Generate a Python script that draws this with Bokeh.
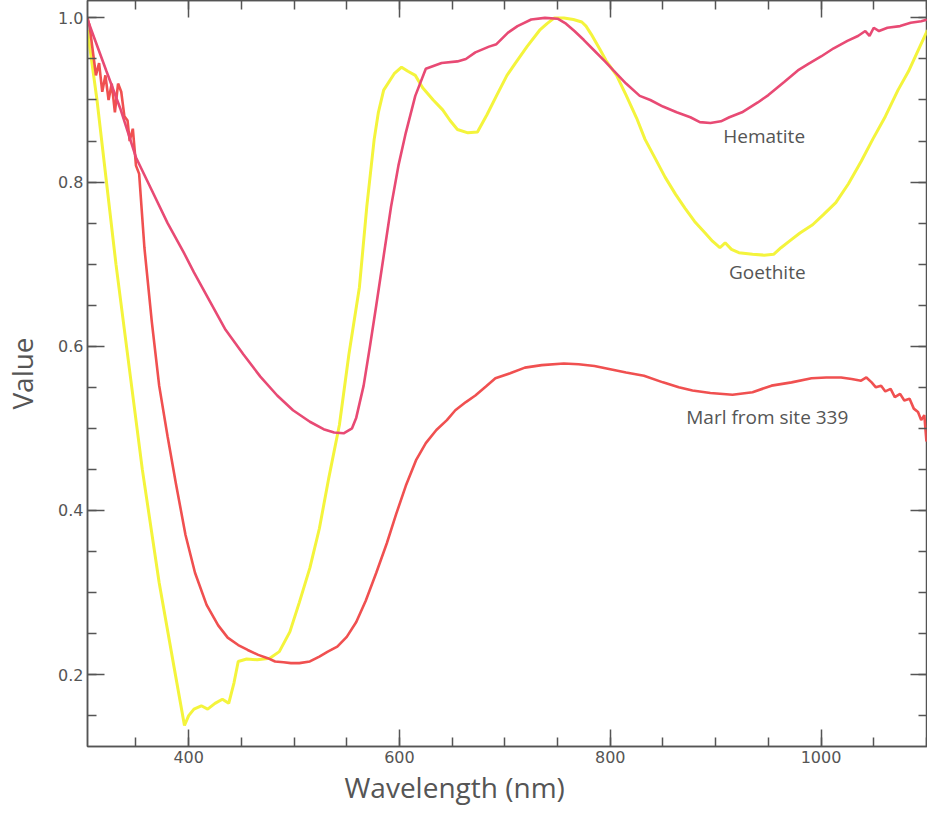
from bokeh.plotting import figure
from bokeh.models import Range1d, LinearAxis, FixedTicker, Label, NumeralTickFormatter, Title
from bokeh.embed import file_html
from bokeh.resources import INLINE

# ---- data ----
hem_x = [304, 312, 322, 335, 350, 365, 380, 395, 405, 420, 435, 452, 468, 484, 499, 515, 528,
         538, 547, 555, 559, 566, 572, 578, 585, 592, 599, 606, 615, 625, 640, 655, 663, 672,
         685, 692, 703, 712, 725, 738, 750, 758, 766, 775, 785, 795, 803, 815, 828, 838, 850,
         863, 876, 885, 895, 905, 913, 925, 940, 950, 965, 978, 988, 1000, 1012, 1025, 1035,
         1042, 1046, 1050, 1055, 1063, 1075, 1085, 1095, 1101]
hem_y = [0.998, 0.97, 0.935, 0.89, 0.83, 0.79, 0.75, 0.715, 0.69, 0.655, 0.62, 0.59, 0.563,
         0.54, 0.522, 0.508, 0.499, 0.495, 0.494, 0.5, 0.513, 0.552, 0.6, 0.65, 0.71, 0.77, 0.82,
         0.86, 0.905, 0.938, 0.945, 0.947, 0.95, 0.958, 0.965, 0.968, 0.982, 0.99, 0.998, 1.0,
         0.999, 0.993, 0.984, 0.973, 0.96, 0.947, 0.936, 0.92, 0.905, 0.9, 0.892, 0.885, 0.879,
         0.873, 0.872, 0.874, 0.879, 0.885, 0.897, 0.906, 0.922, 0.936, 0.944, 0.953, 0.963,
         0.972, 0.978, 0.984, 0.978, 0.988, 0.984, 0.988, 0.99, 0.994, 0.996, 0.998]

goe_x = [304, 313, 331, 345, 356, 372, 386, 396, 400, 405, 412, 418, 425, 432, 438, 443, 447,
         455, 465, 477, 486, 496, 505, 515, 524, 533, 543, 552, 562, 569, 576, 580, 585, 595,
         602, 608, 615, 622, 632, 641, 648, 655, 665, 674, 683, 692, 702, 710, 721, 733, 740,
         747, 756, 765, 773, 777, 782, 790, 796, 806, 815, 825, 833, 843, 852, 862, 871, 880,
         890, 897, 904, 909, 915, 922, 935, 946, 955, 962, 970, 980, 992, 1002, 1014, 1026,
         1038, 1049, 1061, 1073, 1083, 1092, 1101]
goe_y = [0.985, 0.9, 0.7, 0.56, 0.45, 0.312, 0.21, 0.138, 0.15, 0.158, 0.162, 0.158, 0.165,
         0.17, 0.165, 0.19, 0.216, 0.219, 0.218, 0.22, 0.228, 0.252, 0.288, 0.33, 0.378, 0.44,
         0.504, 0.59, 0.672, 0.77, 0.852, 0.885, 0.912, 0.932, 0.94, 0.935, 0.93, 0.915, 0.9,
         0.888, 0.875, 0.864, 0.86, 0.861, 0.882, 0.905, 0.93, 0.945, 0.965, 0.985, 0.993,
         1.0, 1.0, 0.998, 0.995, 0.99, 0.98, 0.962, 0.948, 0.93, 0.906, 0.878, 0.852, 0.828,
         0.806, 0.785, 0.768, 0.752, 0.738, 0.728, 0.72, 0.726, 0.718, 0.714, 0.712, 0.711,
         0.712, 0.72, 0.728, 0.738, 0.748, 0.76, 0.775, 0.798, 0.825, 0.852, 0.88, 0.912,
         0.935, 0.96, 0.985]

marl_x = [304, 306, 309, 312, 315, 318, 321, 324, 327, 330, 333, 336, 339, 342, 344, 347, 350,
          353, 358, 365, 372, 380, 388, 397, 406, 417, 428, 437, 447, 456, 466, 475, 482, 490,
          497, 505, 515, 524, 532, 541, 550, 559, 568, 578, 588, 597, 606, 616, 625, 635, 645,
          653, 663, 672, 682, 691, 705, 719, 735, 756, 770, 785, 800, 815, 832, 850, 865, 878,
          895, 916, 935, 953, 972, 991, 1005, 1019, 1029, 1038, 1043, 1048, 1052, 1057, 1061,
          1066, 1070, 1075, 1079, 1084, 1088, 1092, 1095, 1098, 1100, 1101]
marl_y = [1.0, 0.99, 0.96, 0.93, 0.945, 0.91, 0.93, 0.9, 0.92, 0.885, 0.92, 0.91, 0.88, 0.875,
          0.85, 0.865, 0.82, 0.81, 0.72, 0.63, 0.552, 0.49, 0.432, 0.37, 0.324, 0.285, 0.26,
          0.245, 0.236, 0.23, 0.224, 0.22, 0.216, 0.215, 0.214, 0.214, 0.216, 0.222, 0.228,
          0.234, 0.246, 0.264, 0.29, 0.324, 0.36, 0.396, 0.43, 0.462, 0.482, 0.498, 0.51, 0.522,
          0.532, 0.54, 0.551, 0.561, 0.567, 0.574, 0.577, 0.579, 0.578, 0.576, 0.572, 0.568,
          0.564, 0.556, 0.55, 0.546, 0.543, 0.541, 0.544, 0.552, 0.556, 0.561, 0.562, 0.562,
          0.56, 0.558, 0.562, 0.556, 0.55, 0.552, 0.545, 0.548, 0.538, 0.542, 0.534, 0.536,
          0.524, 0.52, 0.51, 0.516, 0.484, 0.49]

x_ticks = [400, 600, 800, 1000]
y_ticks = [0.2, 0.4, 0.6, 0.8, 1.0]
x_minor = [350, 400, 450, 500, 550, 600, 650, 700, 750, 800, 850, 900, 950, 1000, 1050, 1100]
y_minor = [0.15, 0.2, 0.25, 0.3, 0.35, 0.4, 0.45, 0.5, 0.55, 0.6, 0.65, 0.7, 0.75, 0.8,
           0.85, 0.9, 0.95, 1.0]

x_title = "Wavelength (nm)"
y_title = "Value"
curve_labels = ["Hematite", "Goethite", "Marl from site 339"]
label_x = [946, 949, 949]
label_y = [0.856, 0.691, 0.514]

X0, X1 = 304, 1101
Y0, Y1 = 0.1124, 1.0212

AX = "#555555"
HEM = "#e84a74"
GOE = "#f4f43c"
MARL = "#f05050"

p = figure(width=927, height=805, output_backend="svg", toolbar_location=None,
           x_range=Range1d(X0, X1), y_range=Range1d(Y0, Y1),
           min_border_left=80, min_border_right=0, min_border_top=0, min_border_bottom=0,
           y_axis_label=y_title)
p.grid.visible = False
p.outline_line_color = AX
p.outline_line_width = 1.5
p.background_fill_color = "white"
p.border_fill_color = "white"

def style(ax, labels=True):
    ax.axis_line_color = AX
    ax.axis_line_width = 1.5
    ax.major_tick_line_color = AX
    ax.minor_tick_line_color = AX
    ax.major_tick_line_width = 1.5
    ax.minor_tick_line_width = 1.5
    ax.major_tick_in = 17
    ax.major_tick_out = 0
    ax.minor_tick_in = 9
    ax.minor_tick_out = 0
    if labels:
        ax.major_label_text_font = "DejaVu Sans"
        ax.major_label_text_font_size = "16px"
        ax.major_label_text_color = AX
        ax.major_label_standoff = 4
        ax.axis_label_text_font = "Open Sans"
        ax.axis_label_text_font_style = "normal"
        ax.axis_label_text_font_size = "28px"
        ax.axis_label_text_color = AX
    else:
        ax.major_label_text_font_size = "1px"
        ax.major_label_standoff = 0
        ax.axis_label_standoff = 0

p.xaxis.ticker = FixedTicker(ticks=x_ticks, minor_ticks=x_minor)
p.yaxis.ticker = FixedTicker(ticks=y_ticks, minor_ticks=y_minor)
p.yaxis.formatter = NumeralTickFormatter(format="0.0")
style(p.xaxis[0])
style(p.yaxis[0])
p.yaxis.axis_label_standoff = 14

top = LinearAxis(ticker=FixedTicker(ticks=x_ticks, minor_ticks=x_minor),
                 major_label_overrides={t: "" for t in x_ticks}, fixed_location=Y1)
style(top, labels=False)
p.add_layout(top, "above")
right = LinearAxis(ticker=FixedTicker(ticks=y_ticks, minor_ticks=y_minor),
                   major_label_overrides={t: "" for t in y_ticks}, fixed_location=X1)
style(right, labels=False)
p.add_layout(right, "right")

# x-axis title as a below-panel title, shifted left like the reference
xt = Title(text=x_title, align="left", offset=257, standoff=0,
           text_font="Open Sans", text_font_size="28px", text_font_style="normal",
           text_color=AX, text_line_height=0.9)
p.add_layout(xt, "below")

p.line(goe_x, goe_y, line_color=GOE, line_width=3)
p.line(marl_x, marl_y, line_color=MARL, line_width=2.6)
p.line(hem_x, hem_y, line_color=HEM, line_width=2.6)

for txt, xx, yy in zip(curve_labels, label_x, label_y):
    p.add_layout(Label(x=xx, y=yy, text=txt, text_align="center", text_baseline="middle",
                       text_font="Open Sans", text_font_size="19px", text_color=AX))

open("out.html", "w").write(file_html(p, INLINE))
